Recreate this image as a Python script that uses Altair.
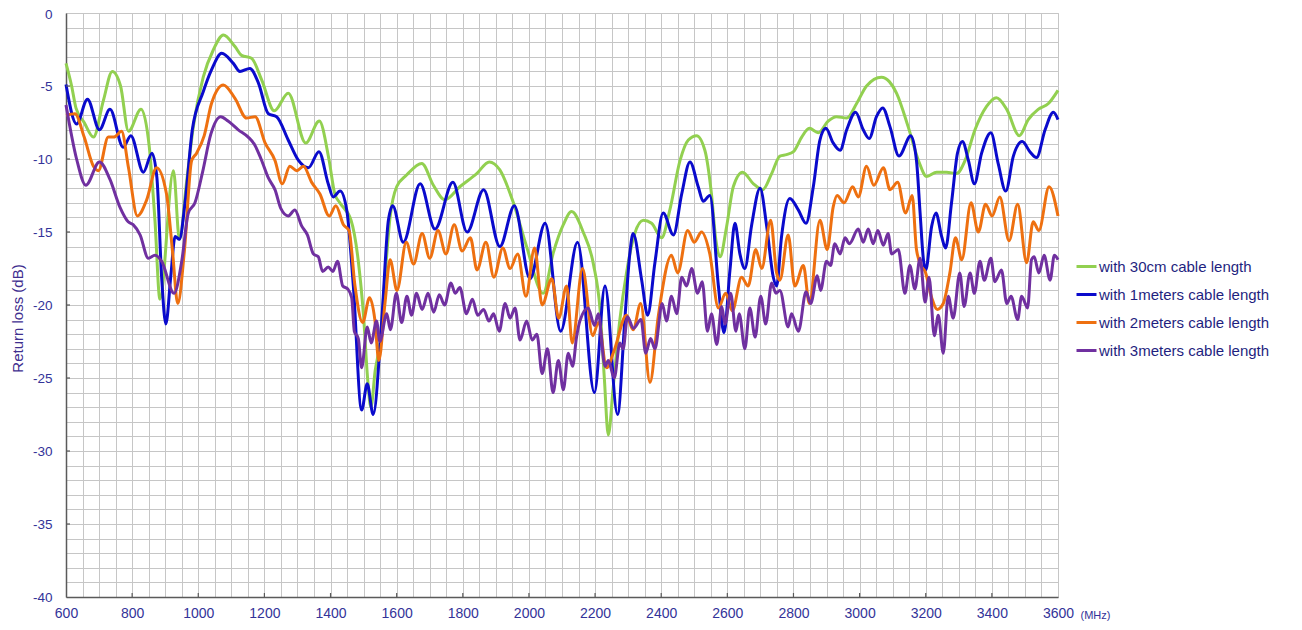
import altair as alt
import pandas as pd

# ---------------- data ----------------
names = ["with 30cm cable length", "with 1meters cable length",
         "with 2meters cable length", "with 3meters cable length"]
colors = ["#92D050", "#0A0ACC", "#EE7010", "#7030A0"]

green_f = [600, 617, 630, 655, 683, 713, 740, 765, 789, 827, 852, 869, 884, 925, 943, 965, 985,
           1015, 1046, 1076, 1111, 1131, 1161, 1192, 1230, 1272, 1325, 1366, 1395, 1413, 1428,
           1462, 1484, 1500, 1512, 1522, 1535, 1550, 1565, 1580, 1600, 1630, 1676, 1711, 1746,
           1791, 1842, 1880, 1912, 1953, 1993, 2043, 2074, 2104, 2129, 2164, 2195, 2215, 2228,
           2240, 2255, 2275, 2295, 2320, 2346, 2371, 2401, 2426, 2457, 2482, 2507, 2532, 2552,
           2565, 2578, 2598, 2618, 2646, 2679, 2707, 2734, 2759, 2779, 2800, 2825, 2848, 2875,
           2905, 2930, 2961, 2991, 3021, 3066, 3090, 3112, 3147, 3178, 3203, 3233, 3263, 3293,
           3319, 3349, 3384, 3414, 3445, 3483, 3510, 3540, 3571, 3600]
green_db = [-3.45, -5.0, -6.5, -7.5, -8.5, -6.0, -4.0, -5.0, -8.1, -6.6, -9.2, -14.2, -19.6, -10.8,
            -15.5, -11.5, -7.8, -4.4, -2.5, -1.5, -2.3, -2.9, -3.1, -4.6, -6.7, -5.5, -8.9, -7.4,
            -10.0, -12.4, -13.0, -14.2, -17.0, -20.8, -25.0, -27.0, -24.5, -22.5, -18.0, -14.0,
            -11.9, -11.1, -10.3, -11.8, -12.8, -11.9, -11.0, -10.2, -10.75, -13.0, -16.0, -19.2,
            -16.4, -14.5, -13.6, -15.0, -17.2, -20.3, -25.0, -28.9, -25.6, -21.0, -17.8, -15.1,
            -14.2, -14.4, -15.4, -13.5, -10.1, -8.7, -8.4, -9.4, -12.4, -15.5, -16.7, -14.6,
            -11.9, -10.9, -11.7, -12.1, -11.0, -9.8, -9.7, -9.5, -8.5, -7.9, -8.2, -7.4, -7.1,
            -7.2, -6.2, -5.0, -4.4, -4.7, -5.5, -7.8, -10.1, -11.2, -10.9, -10.9, -11.0, -10.1,
            -8.0, -6.4, -5.8, -6.6, -8.4, -7.3, -6.6, -6.2, -5.3]

blue_f = [600, 632, 665, 701, 733, 773, 796, 834, 860, 875, 889, 902, 917, 930, 943, 960, 982,
          1015, 1040, 1071, 1106, 1126, 1156, 1182, 1212, 1237, 1272, 1303, 1333, 1365, 1393,
          1408, 1429, 1449, 1469, 1494, 1511, 1529, 1555, 1575, 1588, 1620, 1671, 1716, 1770,
          1813, 1863, 1912, 1956, 2003, 2049, 2096, 2147, 2198, 2230, 2268, 2290, 2305, 2315,
          2341, 2359, 2381, 2406, 2437, 2462, 2487, 2512, 2527, 2547, 2573, 2590, 2608, 2623,
          2638, 2653, 2673, 2699, 2719, 2739, 2749, 2764, 2789, 2815, 2838, 2860, 2880, 2898,
          2920, 2941, 2961, 2988, 3011, 3029, 3051, 3070, 3092, 3119, 3155, 3172, 3183, 3193,
          3200, 3218, 3231, 3248, 3260, 3278, 3296, 3311, 3329, 3347, 3369, 3397, 3419, 3442,
          3465, 3492, 3515, 3535, 3561, 3586, 3600]
blue_db = [-4.9, -7.6, -5.9, -8.0, -6.6, -9.2, -8.4, -10.9, -9.6, -11.3, -18.0, -21.3, -18.0,
           -15.3, -15.5, -13.0, -8.0, -5.4, -3.9, -2.76, -3.45, -4.0, -3.8, -4.8, -6.9, -7.1,
           -8.7, -10.1, -10.6, -9.5, -11.7, -12.6, -12.2, -13.5, -18.7, -27.2, -25.4, -27.5,
           -21.0, -14.2, -13.2, -15.7, -11.7, -14.8, -11.6, -15.0, -12.1, -16.0, -13.2, -18.2,
           -14.4, -21.8, -15.7, -26.0, -18.7, -27.5, -21.0, -16.5, -15.1, -18.3, -20.7, -17.1,
           -13.7, -15.2, -12.4, -10.2, -11.9, -12.9, -12.5, -18.7, -21.9, -17.6, -14.4, -16.5,
           -17.5, -14.6, -12.0, -14.6, -18.1, -18.7, -15.3, -12.7, -13.5, -14.4, -11.9, -8.7,
           -7.9, -8.9, -9.4, -8.0, -6.8, -8.0, -8.6, -7.1, -6.5, -7.8, -9.8, -8.4, -10.1, -13.7,
           -16.9, -17.6, -14.6, -13.7, -15.3, -16.1, -13.0, -9.6, -8.8, -10.1, -11.7, -9.6,
           -8.2, -10.3, -12.2, -9.8, -8.8, -9.5, -9.9, -8.0, -6.8, -7.3]

orange_f = [600, 627, 655, 683, 698, 728, 745, 768, 789, 816, 844, 874, 904, 922, 938, 958, 980,
            995, 1018, 1040, 1076, 1111, 1146, 1172, 1202, 1232, 1254, 1277, 1298, 1318, 1343,
            1368, 1396, 1416, 1439, 1456, 1474, 1497, 1518, 1534, 1546, 1565, 1580, 1601, 1629,
            1651, 1677, 1700, 1725, 1749, 1774, 1798, 1823, 1843, 1870, 1894, 1921, 1943, 1966,
            1991, 2017, 2040, 2069, 2090, 2114, 2131, 2162, 2193, 2210, 2235, 2258, 2295, 2315,
            2338, 2366, 2391, 2431, 2450, 2480, 2500, 2522, 2547, 2573, 2595, 2615, 2643, 2663,
            2686, 2704, 2731, 2749, 2759, 2784, 2804, 2830, 2848, 2880, 2902, 2920, 2932, 2953,
            2979, 2996, 3021, 3043, 3072, 3092, 3115, 3139, 3159, 3172, 3188, 3198, 3218, 3235,
            3253, 3273, 3290, 3309, 3337, 3359, 3381, 3401, 3424, 3452, 3478, 3505, 3525, 3542,
            3573, 3600]
orange_db = [-7.0, -6.9, -8.5, -10.5, -10.8, -8.5, -8.5, -8.1, -10.6, -13.9, -12.8, -10.6, -12.4,
             -16.3, -19.9, -16.3, -10.1, -9.6, -8.4, -6.2, -4.93, -5.85, -7.2, -7.1, -8.9, -10.1,
             -11.7, -10.5, -10.8, -10.5, -11.6, -12.4, -13.9, -13.2, -14.5, -14.9, -18.7, -21.2,
             -19.5, -21.0, -23.8, -19.8, -16.9, -19.0, -15.7, -17.2, -15.1, -16.8, -14.9, -16.5,
             -14.5, -16.3, -15.4, -17.6, -15.7, -18.1, -16.1, -17.5, -16.5, -19.4, -16.1, -20.0,
             -18.2, -20.9, -18.7, -22.6, -17.5, -22.1, -21.2, -24.3, -23.1, -20.7, -21.7, -19.9,
             -25.3, -20.8, -16.6, -17.8, -14.9, -15.7, -15.0, -16.5, -20.2, -19.2, -20.4, -18.1,
             -18.7, -16.2, -17.5, -14.2, -17.8, -18.3, -15.2, -18.7, -17.3, -19.9, -14.2, -16.2,
             -13.3, -12.5, -13.0, -11.9, -12.6, -10.5, -11.8, -10.6, -12.1, -11.6, -13.7, -12.5,
             -16.2, -17.4, -17.7, -19.5, -20.3, -19.9, -17.8, -15.4, -16.9, -13.0, -15.0, -13.1,
             -13.9, -12.6, -15.6, -13.1, -17.1, -14.3, -14.9, -11.9, -13.9]

purple_f = [600, 632, 660, 701, 733, 763, 788, 803, 824, 849, 869, 889, 927, 950, 970, 990, 1013,
            1038, 1068, 1090, 1121, 1151, 1170, 1190, 1212, 1232, 1250, 1272, 1292, 1313, 1330,
            1348, 1363, 1376, 1393, 1407, 1421, 1437, 1452, 1464, 1472, 1484, 1494, 1511, 1523,
            1539, 1549, 1570, 1581, 1599, 1615, 1631, 1645, 1660, 1677, 1695, 1712, 1729, 1745,
            1764, 1777, 1791, 1811, 1829, 1845, 1863, 1879, 1893, 1910, 1928, 1943, 1958, 1973,
            1993, 2010, 2024, 2040, 2056, 2073, 2089, 2104, 2119, 2132, 2144, 2154, 2179, 2198,
            2210, 2230, 2240, 2258, 2275, 2285, 2298, 2316, 2339, 2353, 2368, 2381, 2403, 2416,
            2431, 2447, 2462, 2477, 2492, 2510, 2524, 2540, 2552, 2568, 2583, 2593, 2610, 2626,
            2636, 2653, 2668, 2684, 2701, 2716, 2734, 2747, 2759, 2784, 2794, 2815, 2838, 2852,
            2872, 2882, 2900, 2912, 2925, 2941, 2956, 2969, 2996, 3011, 3026, 3041, 3055, 3072,
            3086, 3097, 3117, 3137, 3152, 3167, 3183, 3198, 3210, 3226, 3238, 3253, 3268, 3283,
            3303, 3316, 3334, 3347, 3364, 3377, 3397, 3409, 3429, 3445, 3458, 3478, 3490, 3508,
            3520, 3528, 3542, 3558, 3576, 3589, 3600]
purple_db = [-6.3, -10.0, -11.8, -10.2, -11.4, -13.3, -14.3, -14.5, -15.2, -16.8, -16.6, -17.0,
             -19.2, -17.0, -13.7, -13.0, -10.9, -8.3, -7.1, -7.4, -8.0, -8.5, -9.0, -10.0, -11.3,
             -12.1, -13.4, -13.9, -13.5, -14.6, -15.2, -16.5, -16.7, -17.7, -17.4, -17.7, -17.0,
             -18.7, -18.9, -19.5, -21.8, -22.3, -24.3, -21.5, -22.6, -21.1, -22.5, -20.6, -21.7,
             -19.2, -21.2, -19.4, -20.7, -19.2, -20.3, -19.2, -20.5, -19.3, -20.0, -18.5, -19.2,
             -18.8, -20.6, -19.6, -20.7, -20.3, -21.1, -20.6, -21.8, -19.9, -20.9, -20.2, -22.4,
             -21.1, -22.4, -22.0, -24.7, -23.0, -26.0, -23.8, -25.8, -23.3, -24.2, -22.2, -21.1,
             -20.2, -21.4, -20.6, -24.2, -23.8, -25.0, -22.6, -23.0, -20.8, -21.6, -21.0, -23.3,
             -22.3, -23.0, -19.9, -21.1, -19.4, -20.6, -18.1, -18.7, -17.5, -19.2, -18.4, -21.8,
             -20.6, -22.7, -20.1, -21.3, -19.2, -21.8, -20.6, -23.0, -20.2, -22.2, -19.4, -21.3,
             -18.5, -19.2, -19.0, -21.5, -20.6, -21.8, -19.1, -19.9, -18.0, -19.0, -17.0, -17.3,
             -15.8, -16.5, -15.4, -15.8, -14.8, -15.7, -14.8, -15.8, -14.9, -15.9, -15.1, -16.5,
             -16.2, -19.2, -17.3, -18.9, -16.8, -19.8, -18.1, -22.1, -20.7, -23.3, -19.4, -20.9,
             -17.8, -20.1, -17.8, -19.2, -17.0, -18.3, -16.8, -18.4, -17.6, -19.9, -19.4, -21.0,
             -19.4, -20.2, -16.9, -16.7, -17.8, -16.6, -18.3, -16.6, -16.9]

x_grid = list(range(600, 3601, 50))
y_grid = list(range(-40, 1, 1))
x_major = [800, 1000, 1200, 1400, 1600, 1800, 2000, 2200, 2400, 2600, 2800, 3000, 3200, 3400]
y_major = [-35, -30, -25, -20, -15, -10, -5]

# ---------------- build table ----------------
rows = []
for k, (nm, fs, ds) in enumerate(zip(names,
                                     [green_f, blue_f, orange_f, purple_f],
                                     [green_db, blue_db, orange_db, purple_db])):
    for f, d in zip(fs, ds):
        rows.append({"series": nm, "freq": f, "db": d, "k": k})
df = pd.DataFrame(rows)

FONT = "Liberation Sans"
TXT = "#333399"

xscale = alt.Scale(domain=[600, 3600], nice=False, zero=False)
yscale = alt.Scale(domain=[-40, 0], nice=False, zero=False)

xaxis = alt.Axis(values=x_grid,
                 labelExpr="datum.value % 200 == 0 ? '' + datum.value : ''",
                 grid=True, gridColor="#C6C6C6", gridWidth=1,
                 ticks=False, domainColor="#5A5A5A", domainWidth=1.5,
                 labelFont=FONT, labelFontSize=14, labelColor=TXT,
                 labelPadding=9, labelFlush=False, labelOverlap=False,
                 title="(MHz)", titleFont=FONT, titleFontSize=11,
                 titleFontWeight="normal", titleColor=TXT,
                 titleX=1029, titleY=18, titleAlign="center",
                 titleBaseline="middle")
yaxis = alt.Axis(values=y_grid,
                 labelExpr="datum.value % 5 == 0 ? '' + datum.value : ''",
                 grid=True, gridColor="#C6C6C6", gridWidth=1,
                 ticks=False, domainColor="#5A5A5A", domainWidth=1.5,
                 labelFont=FONT, labelFontSize=13.5, labelColor=TXT,
                 labelPadding=14, labelOverlap=False, labelBaseline="middle",
                 labelOffset={"condition": {"test": "datum.value == 0", "value": 1.5}, "value": 0},
                 title="Return loss (dB)", titleFont=FONT, titleFontSize=15,
                 titleFontWeight="normal", titleColor="#3F2F8F",
                 titleAngle=-90, titleX=-49, titleY=305, titleAlign="center",
                 titleBaseline="middle")

lines = alt.Chart(df).mark_line(strokeWidth=3, interpolate="monotone").encode(
    x=alt.X("freq:Q", scale=xscale, axis=xaxis),
    y=alt.Y("db:Q", scale=yscale, axis=yaxis),
    color=alt.Color("series:N", scale=alt.Scale(domain=names, range=colors),
                    legend=alt.Legend(title=None, orient="none", legendX=1009, legendY=242,
                                      symbolType="stroke", symbolSize=400,
                                      symbolStrokeWidth=3, labelFont=FONT,
                                      labelFontSize=15, labelColor="#1F1F80",
                                      labelOffset=1, labelLimit=400, rowPadding=8,
                                      padding=0)),
    order=alt.Order("k:Q"),
    detail="series:N",
)

xt = alt.Chart(pd.DataFrame({"freq": x_major})).mark_rule(
    color="#5A5A5A", strokeWidth=1.2).encode(
    x=alt.X("freq:Q", scale=xscale, axis=xaxis), y=alt.value(584), y2=alt.value(580))
yt = alt.Chart(pd.DataFrame({"db": y_major})).mark_rule(
    color="#5A5A5A", strokeWidth=1.2).encode(
    y=alt.Y("db:Q", scale=yscale, axis=yaxis), x=alt.value(0), x2=alt.value(4))

chart = alt.layer(lines, xt, yt).properties(
    width=992, height=584,
    autosize=alt.AutoSizeParams(type="none"),
    padding={"left": 58, "top": 5, "right": 236, "bottom": 24},
).configure_view(stroke="#C6C6C6", strokeWidth=1)

chart.save("out.html", embed_options={"renderer": "svg", "actions": False})
